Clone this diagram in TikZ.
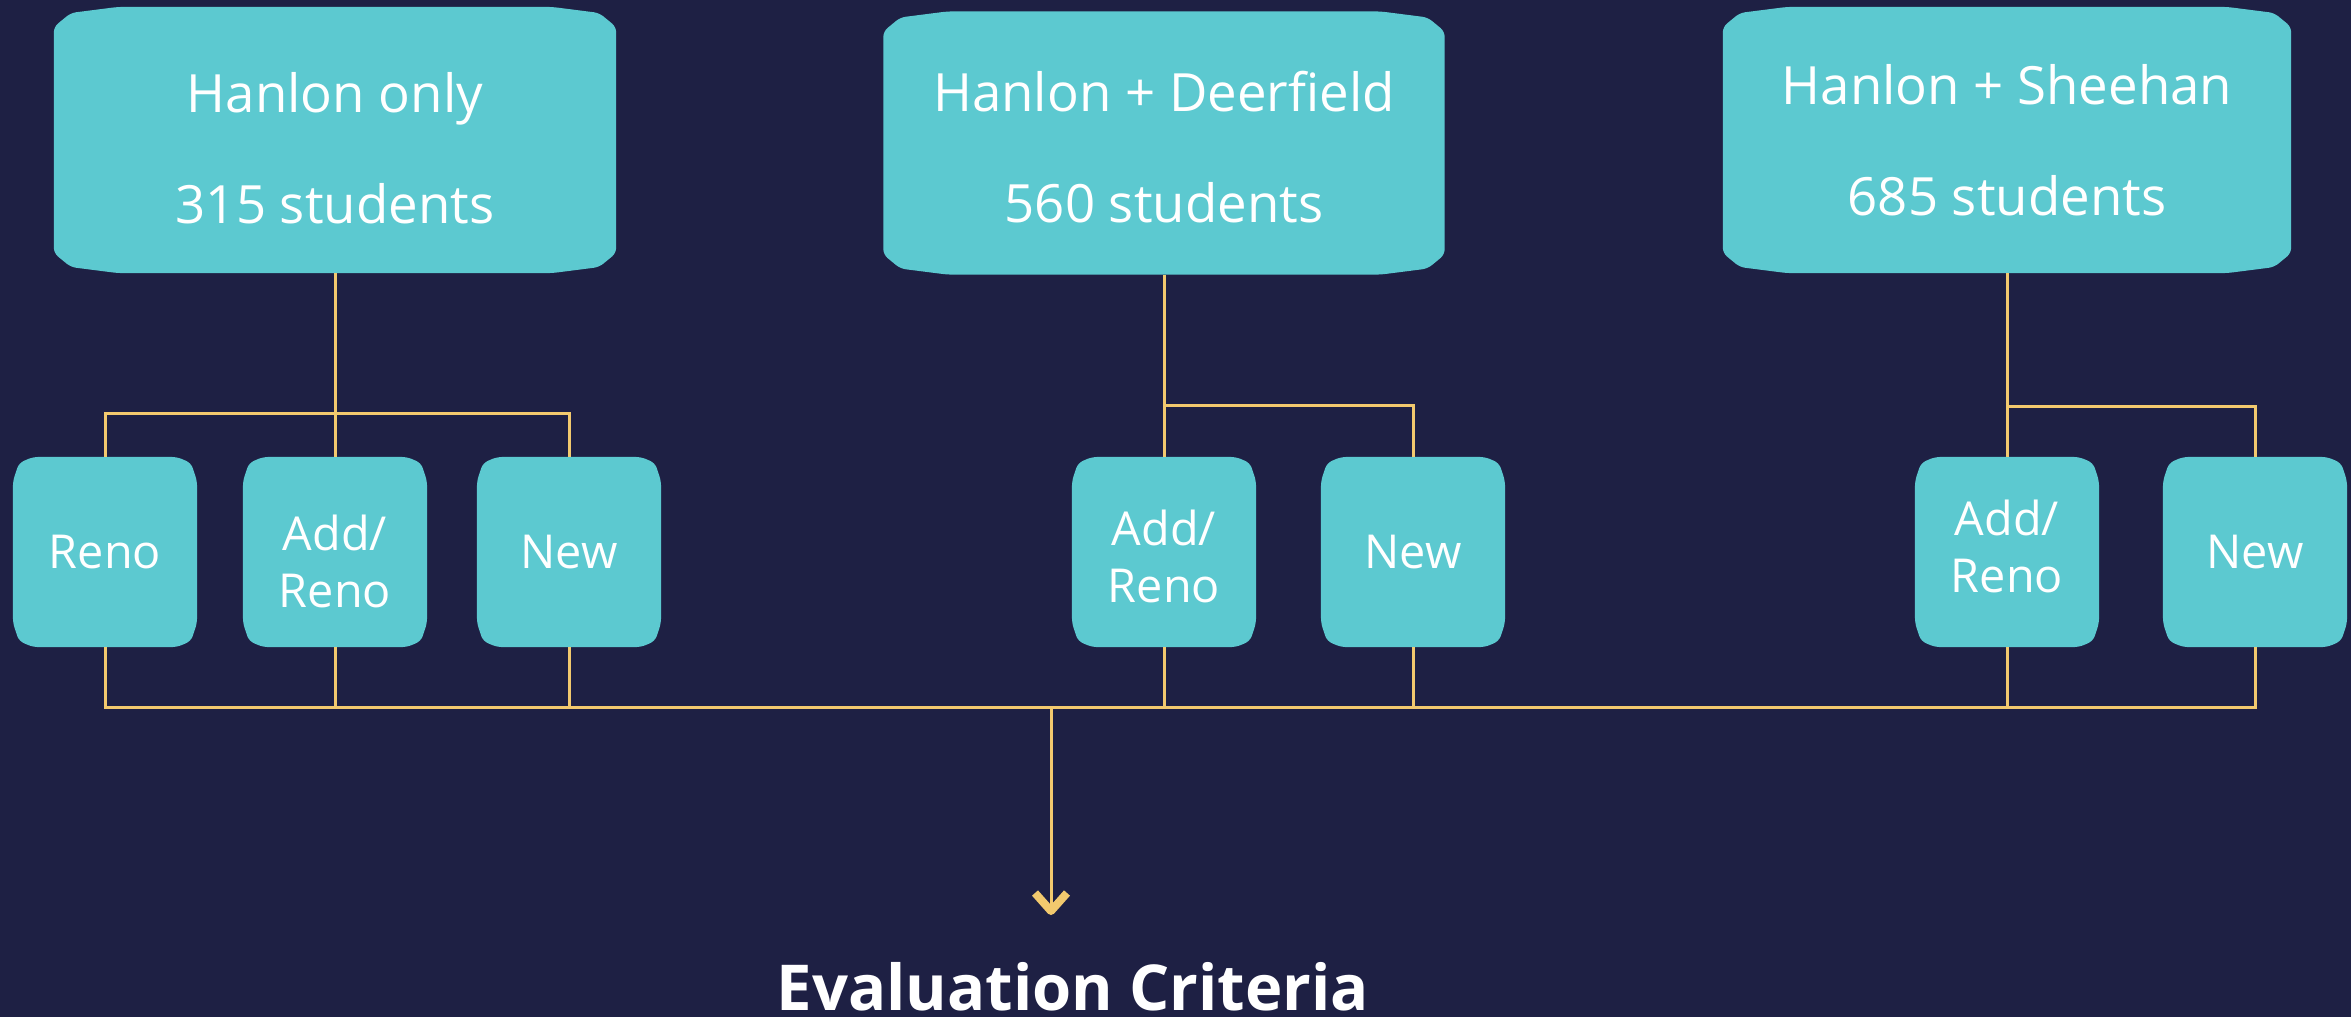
\documentclass[tikz,border=0pt]{standalone}
\usepackage{fontspec}
\setmainfont{Open Sans}
\usetikzlibrary{calc}
\pgfdeclarelayer{background}
\pgfsetlayers{background,main}
\definecolor{bgc}{HTML}{1E2044}
\definecolor{boxc}{HTML}{5CC9D0}
\definecolor{connc}{HTML}{F2C96E}
\newcommand\chbox[5]{%
\begin{pgfonlayer}{background}
\fill[boxc, rounded corners=1.5pt] ($(#1.north west)+(0,#5)$) -- ($(#1.north west)+(#2,#3)$) -- ($(#1.north west)+(#4,0)$) -- ($(#1.north east)+(-#4,0)$) -- ($(#1.north east)+(-#2,#3)$) -- ($(#1.north east)+(0,#5)$) -- ($(#1.south east)+(0,-#5)$) -- ($(#1.south east)+(-#2,-#3)$) -- ($(#1.south east)+(-#4,0)$) -- ($(#1.south west)+(#4,0)$) -- ($(#1.south west)+(#2,-#3)$) -- ($(#1.south west)+(0,-#5)$) -- cycle;
\end{pgfonlayer}}
\newcommand\upstrut[1]{\rule{0pt}{#1}}
\newcommand\dnstrut[1]{\rule[-#1]{0pt}{#1}}
\begin{document}
\begin{tikzpicture}[x=0.01cm,y=-0.01cm,
 bigbox/.style={rectangle, inner sep=0pt, outer sep=0pt, minimum height=2.66cm, text=white, align=center, font=\fontsize{15}{31.5}\selectfont},
 smallbox/.style={rectangle, inner sep=0pt, outer sep=0pt, minimum width=1.84cm, minimum height=1.90cm, text=white, align=center, font=\fontsize{13.3}{16.2}\selectfont},
 conn/.style={draw=connc, line width=0.03cm},
 chev/.style={draw=connc, line width=0.08cm, line join=round}]
\useasboundingbox (0,0) rectangle (2351,1017);
\begin{pgfonlayer}{background}
\fill[bgc] (0,0) rectangle (2351,1017);
\end{pgfonlayer}
% big boxes
\node[bigbox, minimum width=5.62cm] (b1) at (335,140) {\upstrut{16.2pt}Hanlon only\\315 students};
\node[bigbox, minimum width=5.61cm, minimum height=2.63cm] (b2) at (1164,143) {\upstrut{14pt}Hanlon + Deerfield\\560 students};
\node[bigbox, minimum width=5.68cm] (b3) at (2007,140) {Hanlon + Sheehan\\685 students};
% small boxes
\node[smallbox] (r1) at (105,552) {Reno};
\node[smallbox] (a1) at (335,552) {\upstrut{15.3pt}Add/\\Reno};
\node[smallbox] (n1) at (569,552) {New};
\node[smallbox] (a2) at (1164,552) {\upstrut{12.6pt}Add/\\Reno};
\node[smallbox] (n2) at (1413,552) {New};
\node[smallbox] (a3) at (2007,552) {Add/\\Reno\dnstrut{3.4pt}};
\node[smallbox] (n3) at (2255,552) {New};
\foreach \b in {b1,b2,b3} {\chbox{\b}{17}{6}{64}{20}}
\foreach \b in {r1,a1,n1,a2,n2,a3,n3} {\chbox{\b}{6}{6}{20}{24}}
% connectors
\coordinate (t1) at (0,413);
\coordinate (t2) at (0,405);
\coordinate (t3) at (0,406);
\coordinate (bb) at (0,707);
\draw[conn] (b1.south) -- (a1.north);
\draw[conn] (r1.north) |- (n1.north |- t1) -- (n1.north);
\draw[conn] (b2.south) -- (a2.north);
\draw[conn] (a2.north |- t2) -| (n2.north);
\draw[conn] (b3.south) -- (a3.north);
\draw[conn] (a3.north |- t3) -| (n3.north);
\draw[conn] (r1.south) |- (n3.south |- bb) -- (n3.south);
\foreach \n in {a1,n1,a2,n2,a3} {\draw[conn] (\n.south) -- (\n.south |- bb);}
% arrow to criteria
\node[text=white, font=\bfseries\fontsize{18}{20}\selectfont, anchor=base, inner sep=0pt, text depth=0pt] (crit) at (1073,1010) {Evaluation Criteria};
\coordinate (j) at (1051,707);
\coordinate (tip) at (1051,911);
\draw[conn] (j) -- (tip);
\draw[chev] ($(tip)+(-16,-18)$) -- (tip) -- ($(tip)+(16,-18)$);
\end{tikzpicture}
\end{document}
